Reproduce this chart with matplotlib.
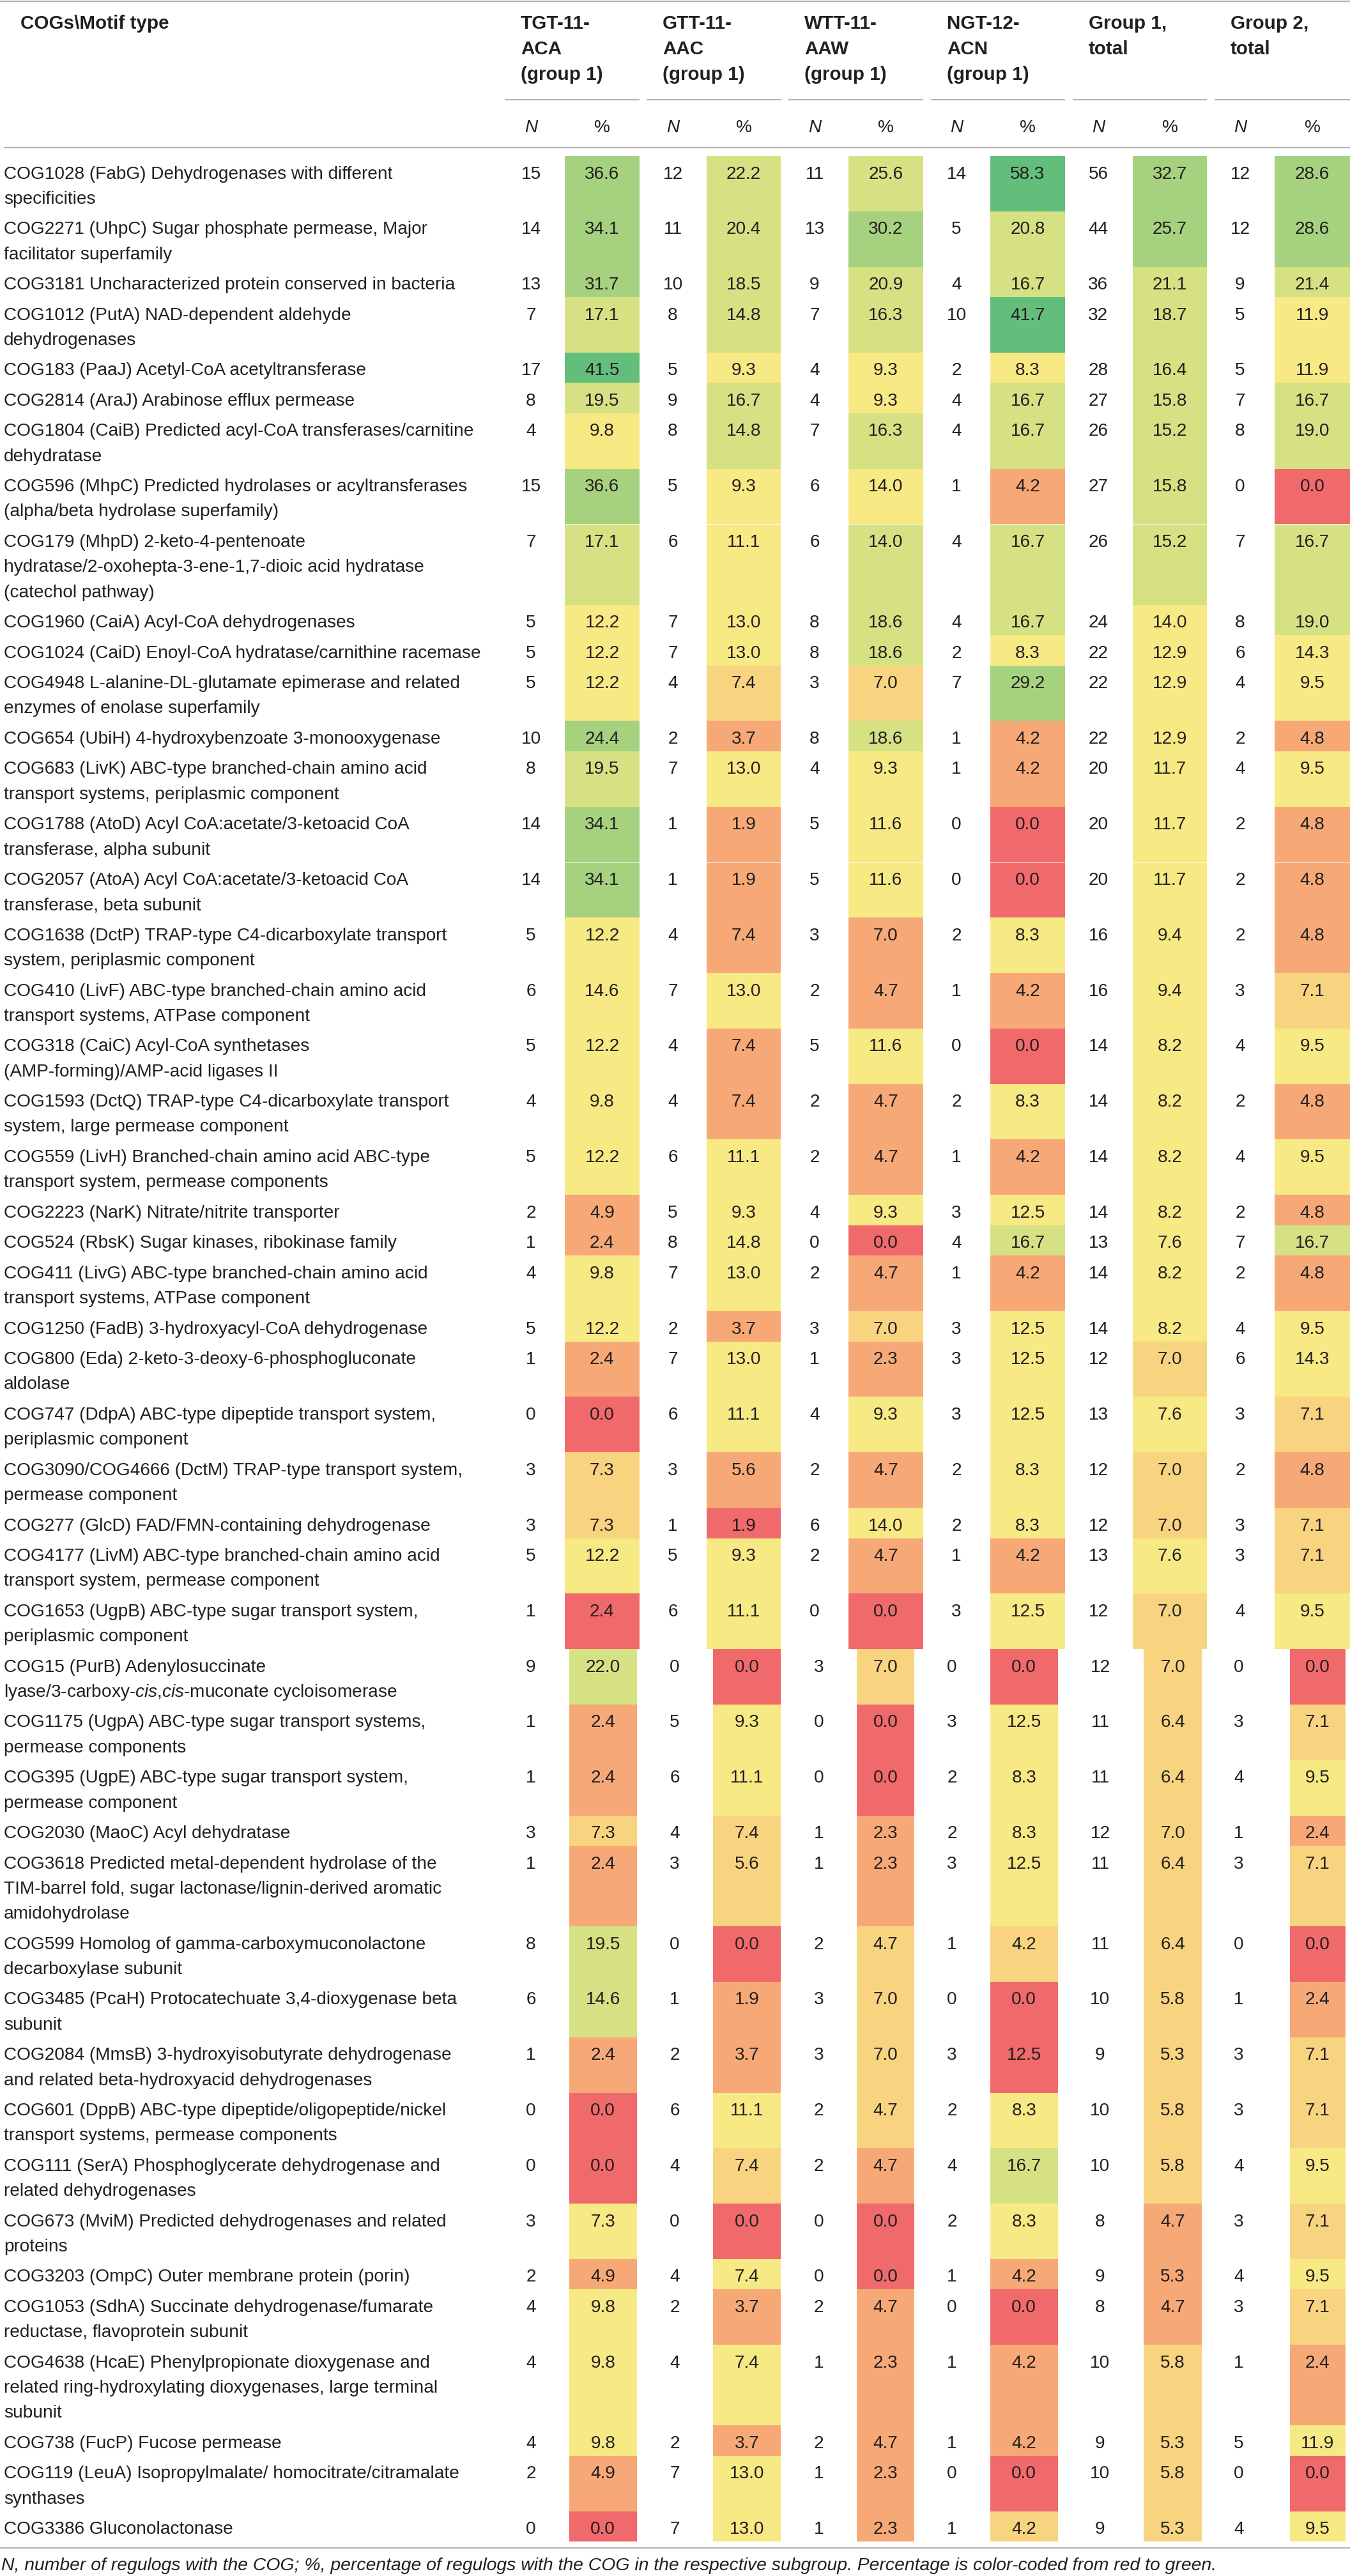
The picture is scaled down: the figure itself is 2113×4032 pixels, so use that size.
import matplotlib
matplotlib.use("Agg")
import matplotlib.pyplot as plt

plt.rcParams["font.family"] = ["Liberation Sans", "DejaVu Sans"]
plt.rcParams["mathtext.fontset"] = "custom"
plt.rcParams["mathtext.rm"] = "Liberation Sans"
plt.rcParams["mathtext.it"] = "Liberation Sans:italic"

# ---------------- data ----------------
cog_labels = [
    "COG1028 (FabG) Dehydrogenases with different\nspecificities",
    "COG2271 (UhpC) Sugar phosphate permease, Major\nfacilitator superfamily",
    "COG3181 Uncharacterized protein conserved in bacteria",
    "COG1012 (PutA) NAD-dependent aldehyde\ndehydrogenases",
    "COG183 (PaaJ) Acetyl-CoA acetyltransferase",
    "COG2814 (AraJ) Arabinose efflux permease",
    "COG1804 (CaiB) Predicted acyl-CoA transferases/carnitine\ndehydratase",
    "COG596 (MhpC) Predicted hydrolases or acyltransferases\n(alpha/beta hydrolase superfamily)",
    "COG179 (MhpD) 2-keto-4-pentenoate\nhydratase/2-oxohepta-3-ene-1,7-dioic acid hydratase\n(catechol pathway)",
    "COG1960 (CaiA) Acyl-CoA dehydrogenases",
    "COG1024 (CaiD) Enoyl-CoA hydratase/carnithine racemase",
    "COG4948 L-alanine-DL-glutamate epimerase and related\nenzymes of enolase superfamily",
    "COG654 (UbiH) 4-hydroxybenzoate 3-monooxygenase",
    "COG683 (LivK) ABC-type branched-chain amino acid\ntransport systems, periplasmic component",
    "COG1788 (AtoD) Acyl CoA:acetate/3-ketoacid CoA\ntransferase, alpha subunit",
    "COG2057 (AtoA) Acyl CoA:acetate/3-ketoacid CoA\ntransferase, beta subunit",
    "COG1638 (DctP) TRAP-type C4-dicarboxylate transport\nsystem, periplasmic component",
    "COG410 (LivF) ABC-type branched-chain amino acid\ntransport systems, ATPase component",
    "COG318 (CaiC) Acyl-CoA synthetases\n(AMP-forming)/AMP-acid ligases II",
    "COG1593 (DctQ) TRAP-type C4-dicarboxylate transport\nsystem, large permease component",
    "COG559 (LivH) Branched-chain amino acid ABC-type\ntransport system, permease components",
    "COG2223 (NarK) Nitrate/nitrite transporter",
    "COG524 (RbsK) Sugar kinases, ribokinase family",
    "COG411 (LivG) ABC-type branched-chain amino acid\ntransport systems, ATPase component",
    "COG1250 (FadB) 3-hydroxyacyl-CoA dehydrogenase",
    "COG800 (Eda) 2-keto-3-deoxy-6-phosphogluconate\naldolase",
    "COG747 (DdpA) ABC-type dipeptide transport system,\nperiplasmic component",
    "COG3090/COG4666 (DctM) TRAP-type transport system,\npermease component",
    "COG277 (GlcD) FAD/FMN-containing dehydrogenase",
    "COG4177 (LivM) ABC-type branched-chain amino acid\ntransport system, permease component",
    "COG1653 (UgpB) ABC-type sugar transport system,\nperiplasmic component",
    "COG15 (PurB) Adenylosuccinate\nlyase/3-carboxy-$\\mathit{cis}$,$\\mathit{cis}$-muconate cycloisomerase",
    "COG1175 (UgpA) ABC-type sugar transport systems,\npermease components",
    "COG395 (UgpE) ABC-type sugar transport system,\npermease component",
    "COG2030 (MaoC) Acyl dehydratase",
    "COG3618 Predicted metal-dependent hydrolase of the\nTIM-barrel fold, sugar lactonase/lignin-derived aromatic\namidohydrolase",
    "COG599 Homolog of gamma-carboxymuconolactone\ndecarboxylase subunit",
    "COG3485 (PcaH) Protocatechuate 3,4-dioxygenase beta\nsubunit",
    "COG2084 (MmsB) 3-hydroxyisobutyrate dehydrogenase\nand related beta-hydroxyacid dehydrogenases",
    "COG601 (DppB) ABC-type dipeptide/oligopeptide/nickel\ntransport systems, permease components",
    "COG111 (SerA) Phosphoglycerate dehydrogenase and\nrelated dehydrogenases",
    "COG673 (MviM) Predicted dehydrogenases and related\nproteins",
    "COG3203 (OmpC) Outer membrane protein (porin)",
    "COG1053 (SdhA) Succinate dehydrogenase/fumarate\nreductase, flavoprotein subunit",
    "COG4638 (HcaE) Phenylpropionate dioxygenase and\nrelated ring-hydroxylating dioxygenases, large terminal\nsubunit",
    "COG738 (FucP) Fucose permease",
    "COG119 (LeuA) Isopropylmalate/ homocitrate/citramalate\nsynthases",
    "COG3386 Gluconolactonase",
]

group_headers = ["TGT-11-\nACA\n(group 1)", "GTT-11-\nAAC\n(group 1)",
                 "WTT-11-\nAAW\n(group 1)", "NGT-12-\nACN\n(group 1)",
                 "Group 1,\ntotal", "Group 2,\ntotal"]

tgt_n = [15,14,13,7,17,8,4,15,7,5,5,5,10,8,14,14,5,6,5,4,5,2,1,4,5,1,0,3,3,5,1,9,1,1,3,1,8,6,1,0,0,3,2,4,4,4,2,0]
tgt_pct = [36.6,34.1,31.7,17.1,41.5,19.5,9.8,36.6,17.1,12.2,12.2,12.2,24.4,19.5,34.1,34.1,12.2,14.6,12.2,9.8,
           12.2,4.9,2.4,9.8,12.2,2.4,0.0,7.3,7.3,12.2,2.4,22.0,2.4,2.4,7.3,2.4,19.5,14.6,2.4,0.0,
           0.0,7.3,4.9,9.8,9.8,9.8,4.9,0.0]
gtt_n = [12,11,10,8,5,9,8,5,6,7,7,4,2,7,1,1,4,7,4,4,6,5,8,7,2,7,6,3,1,5,6,0,5,6,4,3,0,1,2,6,4,0,4,2,4,2,7,7]
gtt_pct = [22.2,20.4,18.5,14.8,9.3,16.7,14.8,9.3,11.1,13.0,13.0,7.4,3.7,13.0,1.9,1.9,7.4,13.0,7.4,7.4,
           11.1,9.3,14.8,13.0,3.7,13.0,11.1,5.6,1.9,9.3,11.1,0.0,9.3,11.1,7.4,5.6,0.0,1.9,3.7,11.1,
           7.4,0.0,7.4,3.7,7.4,3.7,13.0,13.0]
wtt_n = [11,13,9,7,4,4,7,6,6,8,8,3,8,4,5,5,3,2,5,2,2,4,0,2,3,1,4,2,6,2,0,3,0,0,1,1,2,3,3,2,2,0,0,2,1,2,1,1]
wtt_pct = [25.6,30.2,20.9,16.3,9.3,9.3,16.3,14.0,14.0,18.6,18.6,7.0,18.6,9.3,11.6,11.6,7.0,4.7,11.6,4.7,
           4.7,9.3,0.0,4.7,7.0,2.3,9.3,4.7,14.0,4.7,0.0,7.0,0.0,0.0,2.3,2.3,4.7,7.0,7.0,4.7,
           4.7,0.0,0.0,4.7,2.3,4.7,2.3,2.3]
ngt_n = [14,5,4,10,2,4,4,1,4,4,2,7,1,1,0,0,2,1,0,2,1,3,4,1,3,3,3,2,2,1,3,0,3,2,2,3,1,0,3,2,4,2,1,0,1,1,0,1]
ngt_pct = [58.3,20.8,16.7,41.7,8.3,16.7,16.7,4.2,16.7,16.7,8.3,29.2,4.2,4.2,0.0,0.0,8.3,4.2,0.0,8.3,
           4.2,12.5,16.7,4.2,12.5,12.5,12.5,8.3,8.3,4.2,12.5,0.0,12.5,8.3,8.3,12.5,4.2,0.0,12.5,8.3,
           16.7,8.3,4.2,0.0,4.2,4.2,0.0,4.2]
g1_n = [56,44,36,32,28,27,26,27,26,24,22,22,22,20,20,20,16,16,14,14,14,14,13,14,14,12,13,12,12,13,12,12,
        11,11,12,11,11,10,9,10,10,8,9,8,10,9,10,9]
g1_pct = [32.7,25.7,21.1,18.7,16.4,15.8,15.2,15.8,15.2,14.0,12.9,12.9,12.9,11.7,11.7,11.7,9.4,9.4,8.2,8.2,
          8.2,8.2,7.6,8.2,8.2,7.0,7.6,7.0,7.0,7.6,7.0,7.0,6.4,6.4,7.0,6.4,6.4,5.8,5.3,5.8,
          5.8,4.7,5.3,4.7,5.8,5.3,5.8,5.3]
g2_n = [12,12,9,5,5,7,8,0,7,8,6,4,2,4,2,2,2,3,4,2,4,2,7,2,4,6,3,2,3,3,4,0,3,4,1,3,0,1,3,3,4,3,4,3,1,5,0,4]
g2_pct = [28.6,28.6,21.4,11.9,11.9,16.7,19.0,0.0,16.7,19.0,14.3,9.5,4.8,9.5,4.8,4.8,4.8,7.1,9.5,4.8,
          9.5,4.8,16.7,4.8,9.5,14.3,7.1,4.8,7.1,7.1,9.5,0.0,7.1,9.5,2.4,7.1,0.0,2.4,7.1,7.1,
          9.5,7.1,9.5,7.1,2.4,11.9,0.0,9.5]

# colour class of each % cell as printed (R red ... G green)
tgt_cls = ("LG LG LG YG G YG Y LG YG Y Y Y LG YG LG LG Y Y Y Y Y O O Y Y O R LO LO Y R "
           "YG O O LO O YG YG O R R Y O Y Y Y O R").split()
gtt_cls = ("YG YG YG YG Y YG YG Y Y Y Y LO O Y O O O Y O O Y Y Y Y O Y Y O R Y Y "
           "R Y Y LO LO R O O Y LO R Y O Y O Y Y").split()
wtt_cls = ("YG LG YG YG Y Y YG Y YG YG YG LO YG Y Y Y O O Y O O Y R O LO O Y O Y O R "
           "LO R R O O LO LO LO LO O R R O O O O O").split()
ngt_cls = ("G YG YG G Y YG YG O YG YG Y LG O O R R Y O R Y O Y YG O Y Y Y Y Y O Y "
           "R Y Y Y Y LO R R Y YG Y O R O O R LO").split()
g1_cls = ("LG LG YG YG YG YG YG YG YG Y Y Y Y Y Y Y Y Y Y Y Y Y Y Y Y LO Y LO LO Y LO "
          "LO LO LO LO LO LO LO LO LO LO O O O LO LO LO LO").split()
g2_cls = ("LG LG YG Y Y YG YG R YG YG Y Y O Y O O O LO Y O Y O YG O Y Y LO O LO LO Y "
          "R LO Y O LO R O LO LO Y LO Y LO O Y R Y").split()

footnote = ("N, number of regulogs with the COG; %, percentage of regulogs with the COG in the "
            "respective subgroup. Percentage is color-coded from red to green.")

# ---------------- styling / layout ----------------
PAL = {"R": "#F0696B", "O": "#F6A977", "LO": "#F9D480", "Y": "#F7E984",
       "YG": "#D5E183", "LG": "#A6D17F", "G": "#63BE7B"}
TXT = "#231F20"
RULE = "#B4B4B4"
W, H = 2113, 4032
PAD, LINE = 8.2, 39.3
TOP0 = 244
SPLIT = 31   # rows from here on sit in the narrower layout of the second page

n_cols = [tgt_n, gtt_n, wtt_n, ngt_n, g1_n, g2_n]
p_cols = [tgt_pct, gtt_pct, wtt_pct, ngt_pct, g1_pct, g2_pct]
c_cols = [tgt_cls, gtt_cls, wtt_cls, ngt_cls, g1_cls, g2_cls]

cellA = [(884, 1001), (1106, 1222), (1328, 1445), (1550, 1667), (1773, 1889), (1995, 2113)]
cellB = [(890.5, 997), (1116, 1222), (1341, 1431), (1550, 1655.5), (1790, 1881), (2019, 2106)]
nA = [831, 1053, 1275, 1497, 1719, 1941]
nB = [831, 1056, 1281.5, 1490, 1722, 1939]
grp_start = [790, 1012, 1234, 1457, 1679, 1901]
grp_end = [1001, 1223, 1445, 1667, 1889, 2113]

fig = plt.figure(figsize=(W / 100, H / 100), dpi=100)
ax = fig.add_axes([0, 0, 1, 1])
ax.set_xlim(0, W)
ax.set_ylim(H, 0)
ax.axis("off")
renderer = fig.canvas.get_renderer()


def fit_size(s, target, **kw):
    t = ax.text(0, 0, s, fontsize=20, **kw)
    w = t.get_window_extent(renderer).width
    t.remove()
    return 20 * target / w


FS = fit_size("COG119 (LeuA) Isopropylmalate/ homocitrate/citramalate", 713)
FSH = fit_size("COGs\\Motif type", 232, fontweight="bold")
FSF = fit_size(footnote, 1902, fontstyle="italic")

nlines = [len(s.split("\n")) for s in cog_labels]
heights = [PAD + k * LINE for k in nlines]
tops = []
y = TOP0
for h in heights:
    tops.append(y)
    y += h

# coloured % cells
for j in range(6):
    for rows, cells in ((range(0, SPLIT), cellA), (range(SPLIT, len(cog_labels)), cellB)):
        rows = list(rows)
        x0, x1 = cells[j]
        ax.bar([(x0 + x1) / 2] * len(rows), [heights[i] for i in rows],
               bottom=[tops[i] for i in rows], width=x1 - x0,
               color=[PAL[c_cols[j][i]] for i in rows], linewidth=0, zorder=1)

# body text
for i, lab in enumerate(cog_labels):
    base = tops[i] + 35.5
    for k, line in enumerate(lab.split("\n")):
        ax.text(6, base + k * LINE, line, fontsize=FS, color=TXT, va="baseline", ha="left", zorder=3)
    cells = cellA if i < SPLIT else cellB
    ncen = nA if i < SPLIT else nB
    for j in range(6):
        ax.text(ncen[j], base, str(n_cols[j][i]), fontsize=FS, color=TXT,
                ha="center", va="baseline", zorder=3)
        ax.text(sum(cells[j]) / 2, base, f"{p_cols[j][i]:.1f}", fontsize=FS, color=TXT,
                ha="center", va="baseline", zorder=3)

# header
ax.text(32, 45, "COGs\\Motif type", fontsize=FSH, fontweight="bold", color=TXT, va="baseline")
for j, gh in enumerate(group_headers):
    for k, line in enumerate(gh.split("\n")):
        ax.text(grp_start[j] + 25, 45 + k * 40, line, fontsize=FSH, fontweight="bold",
                color=TXT, va="baseline")
    ax.plot([grp_start[j], grp_end[j]], [156, 156], color=RULE, lw=1.6, solid_capstyle="butt")
    ax.text(nA[j], 207, "N", fontsize=FS, fontstyle="italic", color=TXT, ha="center", va="baseline")
    ax.text(sum(cellA[j]) / 2, 207, "%", fontsize=FS, color=TXT, ha="center", va="baseline")

ax.plot([0, W], [1.5, 1.5], color=RULE, lw=1.6)
ax.plot([7, W], [231, 231], color=RULE, lw=1.6)
ax.plot([0, W], [3988, 3988], color=RULE, lw=1.6)

ax.text(2, 4023, footnote, fontsize=FSF, fontstyle="italic", color=TXT, va="baseline")

fig.savefig("out.png", dpi=100, facecolor="white")
